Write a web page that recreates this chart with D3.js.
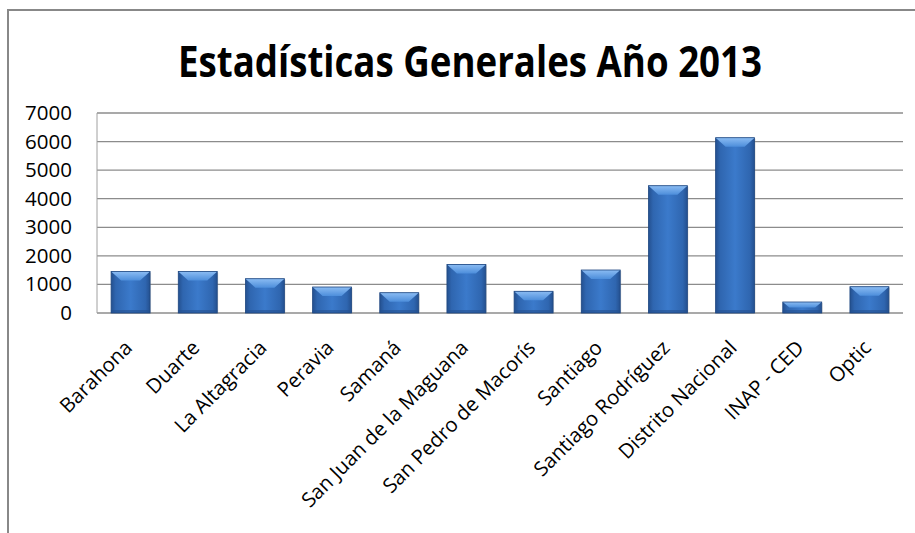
<!DOCTYPE html>
<html><head><meta charset="utf-8">
<script src="https://cdn.jsdelivr.net/npm/d3@7"></script>
<style>body{margin:0;background:#fff}svg{display:block}</style>
</head><body>
<script>
const categories = ["Barahona","Duarte","La Altagracia","Peravia","Samaná","San Juan de la Maguana","San Pedro de Macorís","Santiago","Santiago Rodríguez","Distrito Nacional","INAP - CED","Optic"];
const values = [1450,1450,1200,910,710,1700,760,1505,4455,6135,385,920];
const yTicks = [0,1000,2000,3000,4000,5000,6000,7000];
const title = "Estadísticas Generales Año 2013";

const W=915,H=533;
const m={left:97,right:12,top:113,bottom:220};
const svg=d3.select("body").append("svg").attr("width",W).attr("height",H);
const defs=svg.append("defs");
const gb=defs.append("linearGradient").attr("id","body").attr("x1",0).attr("x2",1).attr("y1",0).attr("y2",0);
[[0,"#24508f"],[0.12,"#2f66b0"],[0.5,"#3b7acb"],[0.88,"#2f66b0"],[1,"#24508f"]].forEach(s=>gb.append("stop").attr("offset",s[0]).attr("stop-color",s[1]));
const gt=defs.append("linearGradient").attr("id","top").attr("x1",0).attr("x2",0).attr("y1",0).attr("y2",1);
[[0,"#8bbcf3"],[1,"#4d8edb"]].forEach(s=>gt.append("stop").attr("offset",s[0]).attr("stop-color",s[1]));

// frame
svg.append("path").attr("d",`M8,${H} L8,10 L${W},10`).attr("fill","none").attr("stroke","#888").attr("stroke-width",2);

const x=d3.scaleBand().domain(categories).range([m.left,W-m.right]).paddingInner(0.42).paddingOuter(0.21);
const y=d3.scaleLinear().domain([0,7000]).range([H-m.bottom,m.top]);

// grid
svg.append("g").selectAll("line").data(yTicks).join("line")
 .attr("x1",m.left).attr("x2",W-m.right).attr("y1",d=>y(d)).attr("y2",d=>y(d))
 .attr("stroke","#8c8c8c").attr("stroke-width",1.3);
svg.append("line").attr("x1",m.left).attr("x2",m.left).attr("y1",m.top).attr("y2",y(0)).attr("stroke","#a0a0a0").attr("stroke-width",1);

// y axis
const ya=svg.append("g").attr("transform",`translate(${m.left},0)`).call(d3.axisLeft(y).tickValues(yTicks).tickSize(0).tickPadding(25).tickFormat(d3.format("d")));
ya.select(".domain").remove();
ya.selectAll("text").attr("font-family","Open Sans").attr("font-size",20.5).attr("fill","#000");

// bars
const bw=x.bandwidth();
const bars=svg.append("g").selectAll("g").data(categories.map((c,i)=>({c,v:values[i]}))).join("g");
bars.append("rect").attr("x",d=>x(d.c)+1).attr("y",d=>y(d.v)+1).attr("width",bw).attr("height",d=>y(0)-y(d.v)).attr("fill","#999").attr("opacity",0.35);
bars.append("rect").attr("x",d=>x(d.c)).attr("y",d=>y(d.v)).attr("width",bw).attr("height",d=>y(0)-y(d.v)).attr("fill","url(#body)");
bars.append("path").attr("d",d=>{const x0=x(d.c),y0=y(d.v),b=Math.min(9,(y(0)-y0)/2),bi=Math.min(10,b*1.2);return `M${x0},${y0}L${x0+bw},${y0}L${x0+bw-bi},${y0+b}L${x0+bi},${y0+b}Z`;}).attr("fill","url(#top)");
bars.append("rect").attr("x",d=>x(d.c)).attr("y",d=>y(0)-3).attr("width",bw).attr("height",3).attr("fill","#24508f").attr("opacity",0.6);
bars.append("rect").attr("x",d=>x(d.c)).attr("y",d=>y(d.v)).attr("width",bw).attr("height",d=>y(0)-y(d.v)).attr("fill","none").attr("stroke","#1f4780").attr("stroke-width",0.8);

// x labels
svg.append("g").selectAll("text").data(categories).join("text")
 .attr("transform",d=>`translate(${x(d)+bw/2+3},${y(0)+36}) rotate(-45)`)
 .attr("text-anchor","end").attr("font-family","Open Sans").attr("font-size",20.3).attr("fill","#000").text(d=>d);

// title
svg.append("text").attr("x",470).attr("y",77).attr("text-anchor","middle").attr("font-family","Open Sans").attr("font-weight","bold").attr("font-size",43)
 .attr("textLength",584).attr("lengthAdjust","spacingAndGlyphs").text(title);
</script>
</body></html>
